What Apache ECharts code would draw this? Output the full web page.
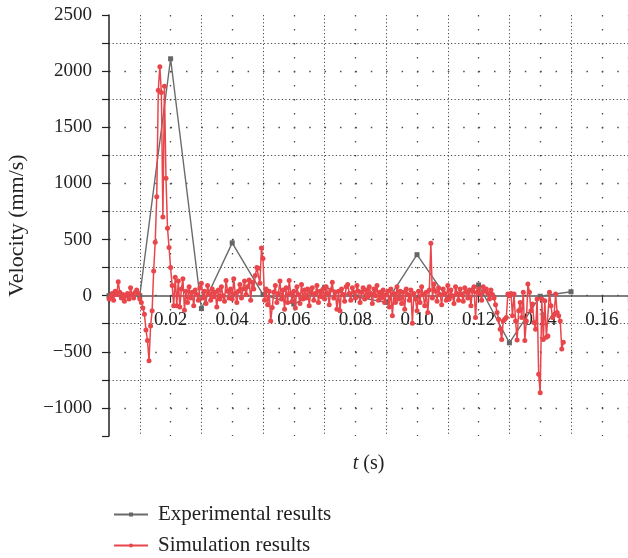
<!DOCTYPE html>
<html>
<head>
<meta charset="utf-8">
<script src="https://cdn.jsdelivr.net/npm/echarts@6/dist/echarts.min.js"></script>
<style>
  html, body { margin: 0; padding: 0; background: #ffffff; }
  #chart { width: 628px; height: 558px; }
</style>
</head>
<body>
<div id="chart"></div>
<script>
// Measured velocity, sampled every 0.01 s
const expTimes = [0, 0.01, 0.02, 0.03, 0.04, 0.05, 0.06, 0.07, 0.08, 0.09, 0.10, 0.11, 0.12, 0.13, 0.14, 0.15];
const expVelocity = [0, 0, 2110, -115, 470, 10, -75, 75, -10, -60, 365, -30, 95, -420, -5, 35];

// Simulated velocity, one sample every simStep seconds starting at t = 0
const simStep = 0.0005;
const simVelocity = [
  -30, -10, 20, -40, 40, 10, 125, 30, -20, 10,
  -50, 0, 20, -30, 70, 10, -20, 30, 50, 20,
  -30, -60, -110, -165, -305, -400, -580, -270, -135, 220,
  475, 880, 1830, 2040, 1810, 700, 1865, 1045, 600, 430,
  250, 90, -90, 165, -90, 130, -100, 60, 150, -130,
  40, -60, 80, -20, 30, -90, 50, 10, -40, 70,
  110, -20, 40, -70, 90, 20, -40, 60, -10, 30,
  -100, 50, -30, 80, 0, -50, 135, 40, -20, 60,
  -30, 150, 20, -60, 40, 100, -20, 60, 130, 10,
  80, 140, -40, 120, 60, 180, 250, 245, 110, 425,
  330, -40, 60, -80, 40, -225, -105, 30, 90, -60,
  20, 130, -30, 50, -120, 70, -60, 135, 20, -50,
  40, -110, 80, 10, -70, 100, -30, 50, -20, 60,
  -90, 30, 70, -40, 20, 90, -60, 40, -10, 60,
  -30, 80, 20, -80, 50, 120, -20, 30, -120, 40,
  -135, 60, 10, -50, 80, 100, 20, -40, 70, 30,
  -20, 90, 40, -60, 30, 70, -30, 50, -10, 80,
  20, -70, 60, 0, 90, -40, 30, -20, 50, -60,
  10, 40, -100, 60, -180, 20, -60, 80, -30, 40,
  -70, 30, -120, 60, 10, -40, 50, -245, 20, -30,
  -135, 40, -60, 80, 10, -90, 30, -150, 50, 467,
  -20, 105, 40, -50, 70, 10, -80, 60, 20, -40,
  90, -30, 50, 0, -70, 80, 20, -40, 60, 10,
  -50, 70, 30, -20, 50, -90, 40, 80, -195, 30,
  60, 20, -40, 80, 40, 60, 20, -30, 50, 10,
  -20, -80, -150, -210, -300, -390, -225, -210, -195, 15,
  0, 20, -180, 15, -225, -395, -135, -60, -195, 30,
  -400, -225, 105, 30, -135, -75, -240, -300, -30, -700,
  -865, -30, -390, -45, -370, -360, 30, -90, -195, -170,
  15, -150, -180, -225, -475, -415
];

// Tick labels shown on the axes
const xTickLabels = [0.02, 0.04, 0.06, 0.08, 0.10, 0.12, 0.14, 0.16];
const yTickLabels = [-1000, -500, 0, 500, 1000, 1500, 2000, 2500];

const seriesNames = ['Experimental results', 'Simulation results'];

const expData = expTimes.map((t, i) => [t, expVelocity[i]]);
const simData = simVelocity.map((v, i) => [+(i * simStep).toFixed(4), v]);

const FONT = 'Liberation Serif';
const TEXT_COLOR = '#222222';
const GRID_COLOR = '#4a4a4a';

// Plot box and velocity range; the time axis is lifted onto the zero line
const GRID = { left: 109, right: 0, top: 15, bottom: 122 };
const Y_MIN = -1250, Y_MAX = 2500;
const plotHeight = 558 - GRID.top - GRID.bottom;
const zeroLift = plotHeight * (0 - Y_MIN) / (Y_MAX - Y_MIN);

const chart = echarts.init(document.getElementById('chart'), null, { renderer: 'canvas' });

const yBase = { type: 'value', min: Y_MIN, max: Y_MAX, interval: 250, position: 'left' };

const legendText = { fontFamily: FONT, fontSize: 21, color: TEXT_COLOR, padding: [0, 0, 0, 5] };
const legendBase = { left: 108, itemWidth: 34, itemHeight: 5, textStyle: legendText };

chart.setOption({
  animation: false,
  backgroundColor: '#ffffff',
  grid: Object.assign({ containLabel: false, outerBoundsMode: 'none' }, GRID),
  legend: [
    Object.assign({ top: 499, data: [seriesNames[0]] }, legendBase),
    Object.assign({ top: 530, data: [seriesNames[1]] }, legendBase)
  ],
  xAxis: {
    type: 'value',
    position: 'bottom',
    offset: -zeroLift,
    min: 0,
    max: 0.1685,
    interval: 0.02,
    name: '{i|t} (s)',
    nameLocation: 'middle',
    nameGap: 158,
    nameTextStyle: {
      fontFamily: FONT, fontSize: 20, color: TEXT_COLOR,
      rich: { i: { fontFamily: FONT, fontSize: 20, fontStyle: 'italic', color: TEXT_COLOR } }
    },
    axisLine: { onZero: false, lineStyle: { color: '#555', width: 1.5 } },
    axisTick: { show: true, inside: false, length: 7, lineStyle: { color: '#333', width: 1.2 } },
    axisLabel: {
      margin: 15,
      fontFamily: FONT, fontSize: 19, color: TEXT_COLOR,
      formatter: (v) => xTickLabels.some(x => Math.abs(x - v) < 1e-6) ? v.toFixed(2) : ''
    },
    splitLine: {
      show: true,
      showMinLine: false,
      lineStyle: { color: GRID_COLOR, width: 1.3, type: [1.5, 12.5] }
    },
    minorTick: { show: false, splitNumber: 2 },
    minorSplitLine: {
      show: true,
      lineStyle: { color: GRID_COLOR, width: 1, type: [1.2, 2.4] }
    }
  },
  yAxis: [
    Object.assign({}, yBase, {
      name: 'Velocity (mm/s)',
      nameLocation: 'middle',
      nameGap: 81,
      nameTextStyle: { fontFamily: FONT, fontSize: 22, color: TEXT_COLOR },
      axisLine: { show: true, onZero: false, lineStyle: { color: '#222', width: 1.5 } },
      axisTick: { show: true, length: 7, lineStyle: { color: '#222', width: 1.2 } },
      axisLabel: {
        margin: 17,
        fontFamily: FONT, fontSize: 19, color: TEXT_COLOR,
        formatter: (v) => yTickLabels.includes(v) ? String(v).replace('-', '\u2212') : ''
      },
      splitLine: {
        show: true,
        showMinLine: false,
        showMaxLine: false,
        lineStyle: { color: ['rgba(0,0,0,0)', GRID_COLOR], width: 1, type: [1.2, 2.4] }
      }
    }),
    Object.assign({}, yBase, {
      axisLine: { show: false },
      axisTick: { show: false },
      axisLabel: { show: false },
      splitLine: {
        show: true,
        showMinLine: false,
        showMaxLine: false,
        lineStyle: { color: [GRID_COLOR, 'rgba(0,0,0,0)'], width: 1.3, type: [1.5, 13.9] }
      }
    })
  ],
  series: [
    {
      name: seriesNames[0],
      type: 'line',
      data: expData,
      symbol: 'rect',
      symbolSize: 5,
      showSymbol: true,
      color: '#6b6b6b',
      lineStyle: { color: '#6b6b6b', width: 1.4 },
      itemStyle: { color: '#666666' },
      z: 2
    },
    {
      name: seriesNames[1],
      type: 'line',
      data: simData,
      symbol: 'circle',
      symbolSize: 5,
      showSymbol: true,
      color: '#e8464b',
      lineStyle: { color: '#e8464b', width: 1.5 },
      itemStyle: { color: '#e8464b' },
      z: 3
    }
  ]
});
</script>
</body>
</html>
